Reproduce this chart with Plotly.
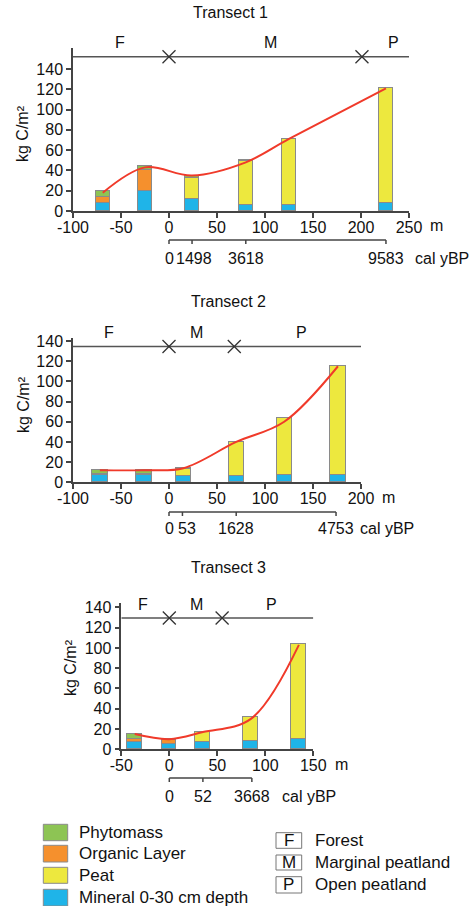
import plotly.graph_objects as go

# ---------------- DATA ----------------
components = ["Phytomass", "Organic Layer", "Peat", "Mineral 0-30 cm depth"]
comp_colors = ["#8dc454", "#f5902d", "#ede83e", "#1fb4e8"]
zone_codes = ["F", "M", "P"]
zone_names = ["Forest", "Marginal peatland", "Open peatland"]

# Transect 1
t1_pos = [-69, -25, 24, 80, 125, 226]
t1_mineral = [7.5, 20, 12, 6, 6, 7.5]
t1_organic = [6.5, 20, 0, 0, 0, 0]
t1_peat = [0, 0, 20.5, 43, 64.5, 114]
t1_phyto = [5.5, 4, 2.5, 0.8, 0.5, 0]
t1_line = [18, 43, 35, 48, 71, 121]
t1_age_pos = [0, 24, 80, 226]
t1_age_lab = ["0", "1498", "3618", "9583"]
t1_bounds = [0, 201]
t1_zone_pos = [-51, 106, 234]
t1_zone_y = 152

# Transect 2
t2_pos = [-72, -26, 15, 70, 120, 176]
t2_mineral = [7.5, 7.5, 6.5, 6, 7.2, 7.3]
t2_organic = [0.5, 0.5, 0, 0, 0, 0]
t2_peat = [0, 0, 6.5, 33.5, 56.5, 108]
t2_phyto = [4, 4, 0.8, 0.5, 0.3, 0.3]
t2_line = [12, 12, 14, 40, 60, 115]
t2_age_pos = [0, 14, 70, 174]
t2_age_lab = ["0", "53", "1628", "4753"]
t2_bounds = [0, 68]
t2_zone_pos = [-62, 29, 138]
t2_zone_y = 134.5

# Transect 3
t3_pos = [-36, 0, 35, 85, 135]
t3_mineral = [7.5, 5.2, 7.5, 7.9, 9.8]
t3_organic = [2.5, 4, 0, 0, 0]
t3_peat = [0, 0, 9.9, 23.5, 94]
t3_phyto = [5.5, 1, 0, 0, 0]
t3_line = [15, 10, 17, 30, 103]
t3_age_pos = [0, 35, 86]
t3_age_lab = ["0", "52", "3668"]
t3_bounds = [0, 55]
t3_zone_pos = [-27, 28.5, 106]
t3_zone_y = 129.5

y_ticks = [0, 20, 40, 60, 80, 100, 120, 140]

# ---------------- LAYOUT HELPERS ----------------
W, H = 473, 906
FONT = "Liberation Sans, Arial, sans-serif"
AX = "#444444"
TXT = "#111111"


def fx(p):
    return p / W


def fy(p):
    return 1 - p / H


def txt(x, y, text, xref="paper", yref="paper", size=16, xanchor="center", **kw):
    d = dict(x=x, y=y, xref=xref, yref=yref, text=text, showarrow=False,
             xanchor=xanchor, yanchor="middle",
             font=dict(size=size, color=TXT, family=FONT))
    d.update(kw)
    return d


panels = [
    dict(pos=t1_pos, mineral=t1_mineral, organic=t1_organic, peat=t1_peat, phyto=t1_phyto,
         line=t1_line, age_pos=t1_age_pos, age_lab=t1_age_lab, bounds=t1_bounds,
         zone_pos=t1_zone_pos, zone_y=t1_zone_y, xr=[-100, 250], xt=list(range(-100, 251, 50)),
         xdom=[73, 409], ydom=[211, 48], ymax=160.7, width=15, title="Transect 1",
         title_px=(230, 13), ytitle_px=(23, 134), age_y=240, age_lab_y=258.5,
         cal_x=413, m_px=(436, 226), age_shift=[0, 2, 0, 0]),
    dict(pos=t2_pos, mineral=t2_mineral, organic=t2_organic, peat=t2_peat, phyto=t2_phyto,
         line=t2_line, age_pos=t2_age_pos, age_lab=t2_age_lab, bounds=t2_bounds,
         zone_pos=t2_zone_pos, zone_y=t2_zone_y, xr=[-100, 200], xt=list(range(-100, 201, 50)),
         xdom=[73, 361], ydom=[482.3, 338], ymax=143.0, width=16, title="Transect 2",
         title_px=(228, 302), ytitle_px=(24, 405), age_y=512, age_lab_y=528,
         cal_x=358, m_px=(388, 497), age_shift=[0, 5, 0, 0]),
    dict(pos=t3_pos, mineral=t3_mineral, organic=t3_organic, peat=t3_peat, phyto=t3_phyto,
         line=t3_line, age_pos=t3_age_pos, age_lab=t3_age_lab, bounds=t3_bounds,
         zone_pos=t3_zone_pos, zone_y=t3_zone_y, xr=[-50, 150], xt=list(range(-50, 151, 50)),
         xdom=[121.3, 313.3], ydom=[749.3, 603], ymax=144.3, width=15, title="Transect 3",
         title_px=(228, 567), ytitle_px=(70, 668), age_y=778, age_lab_y=796,
         cal_x=280, m_px=(341, 764), age_shift=[0, 0, 0]),
]

fig = go.Figure()
shapes = []
annotations = []
layout_axes = {}

for i, p in enumerate(panels):
    n = "" if i == 0 else str(i + 1)
    xa, ya = "x" + n, "y" + n
    stacks = [("mineral", comp_colors[3]), ("organic", comp_colors[1]),
              ("peat", comp_colors[2]), ("phyto", comp_colors[0])]
    for key, col in stacks:
        fig.add_trace(go.Bar(x=p["pos"], y=p[key], width=p["width"], marker=dict(
            color=col, line=dict(color="#8a8a8a", width=1)), xaxis=xa, yaxis=ya,
            showlegend=False, hoverinfo="skip"))
    # smoothed trend line
    fig.add_trace(go.Scatter(x=p["pos"], y=p["line"], mode="lines",
                             line=dict(color="#f03a2a", width=2, shape="spline", smoothing=1.0),
                             xaxis=xa, yaxis=ya, showlegend=False, hoverinfo="skip",
                             cliponaxis=False))
    # zone line
    fig.add_trace(go.Scatter(x=p["xr"], y=[p["zone_y"], p["zone_y"]], mode="lines",
                             line=dict(color="#555555", width=1.5), xaxis=xa, yaxis=ya,
                             showlegend=False, hoverinfo="skip", cliponaxis=False))
    fig.add_trace(go.Scatter(x=p["bounds"], y=[p["zone_y"]] * len(p["bounds"]), mode="markers",
                             marker=dict(symbol="x-thin", size=13,
                                         line=dict(width=1.3, color="#333333")),
                             xaxis=xa, yaxis=ya, showlegend=False, hoverinfo="skip",
                             cliponaxis=False))
    for zp, zc in zip(p["zone_pos"], zone_codes):
        annotations.append(txt(zp, p["zone_y"], zc, xref=xa, yref=ya, yshift=14))

    ticktext = [str(v) for v in p["xt"]]
    layout_axes["xaxis" + n] = dict(
        domain=[fx(p["xdom"][0]), fx(p["xdom"][1])], range=p["xr"], tickvals=p["xt"],
        ticktext=ticktext, ticks="outside", ticklen=5, tickwidth=1.5, tickcolor=AX,
        showline=True, linecolor=AX, linewidth=1.5, showgrid=False, zeroline=False,
        anchor=ya, tickfont=dict(size=16, color=TXT, family=FONT), fixedrange=True,
        automargin=False, ticklabelstandoff=-4)
    layout_axes["yaxis" + n] = dict(
        domain=[fy(p["ydom"][0]), fy(p["ydom"][1])], range=[0, p["ymax"]], tickvals=y_ticks,
        ticks="outside", ticklen=5, tickwidth=1.5, tickcolor=AX, showline=True,
        linecolor=AX, linewidth=1.5, showgrid=False, zeroline=False, anchor=xa,
        tickfont=dict(size=16, color=TXT, family=FONT), fixedrange=True, automargin=False)

    annotations.append(txt(fx(p["m_px"][0]), fy(p["m_px"][1]), "m"))
    annotations.append(txt(fx(p["title_px"][0]), fy(p["title_px"][1]), p["title"]))
    annotations.append(txt(fx(p["ytitle_px"][0]), fy(p["ytitle_px"][1]), "kg C/m²",
                           textangle=-90))
    # age axis
    ay = fy(p["age_y"])
    tl = 4 / H
    shapes.append(dict(type="line", xref=xa, yref="paper", x0=p["age_pos"][0],
                       x1=p["age_pos"][-1], y0=ay, y1=ay, line=dict(color=AX, width=1.5)))
    for ap, lab, sh in zip(p["age_pos"], p["age_lab"], p["age_shift"]):
        shapes.append(dict(type="line", xref=xa, yref="paper", x0=ap, x1=ap, y0=ay,
                           y1=ay - tl, line=dict(color=AX, width=1.5)))
        annotations.append(txt(ap, fy(p["age_lab_y"]), lab, xref=xa, xshift=sh))
    annotations.append(txt(fx(p["cal_x"]), fy(p["age_lab_y"]), "cal yBP", xanchor="left"))

# ---------------- LEGENDS ----------------
leg_rows = [(824.3, 840.7), (845.3, 862), (867.3, 883.3), (889.3, 906)]
for (y0, y1), name, col in zip(leg_rows, components, comp_colors):
    shapes.append(dict(type="rect", xref="paper", yref="paper", x0=fx(43.3), x1=fx(67.7),
                       y0=fy(y1), y1=fy(y0), fillcolor=col, line=dict(color="#8a8a8a", width=1)))
    annotations.append(txt(fx(76.7), fy((y0 + y1) / 2), name, size=17, xanchor="left"))

zone_rows = [(832.7, 848.3), (855, 870), (876.7, 893)]
for (y0, y1), code, name in zip(zone_rows, zone_codes, zone_names):
    shapes.append(dict(type="rect", xref="paper", yref="paper", x0=fx(276), x1=fx(301.7),
                       y0=fy(y1), y1=fy(y0), fillcolor="white",
                       line=dict(color="#777777", width=1)))
    annotations.append(txt(fx(288.8), fy((y0 + y1) / 2), code, size=17))
    annotations.append(txt(fx(313.3), fy((y0 + y1) / 2), name, size=17, xanchor="left"))

fig.update_layout(
    template="none",
    width=W, height=H, autosize=False, margin=dict(l=0, r=0, t=0, b=0, pad=0),
    paper_bgcolor="white", plot_bgcolor="white", barmode="stack", bargap=0,
    showlegend=False, shapes=shapes, annotations=annotations,
    font=dict(family=FONT, size=16, color=TXT), **layout_axes)

fig.write_html("out.html", config={"displayModeBar": False},
               post_script="document.body.style.margin='0';"
                           "document.body.style.overflow='hidden';")
